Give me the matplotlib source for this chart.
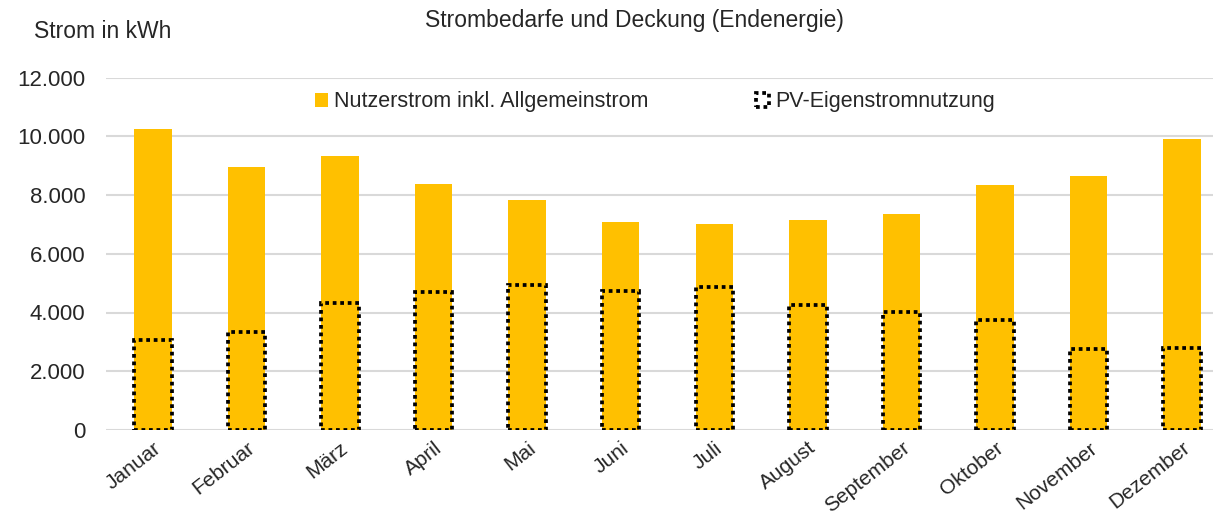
import matplotlib.pyplot as plt
from matplotlib.patches import Patch
from matplotlib.ticker import FuncFormatter

plt.rcParams['font.family'] = ['Liberation Sans', 'DejaVu Sans']

monate = ["Januar", "Februar", "März", "April", "Mai", "Juni", "Juli",
          "August", "September", "Oktober", "November", "Dezember"]
nutzerstrom = [10250, 8960, 9320, 8390, 7840, 7070, 7020, 7150, 7350, 8350, 8640, 9890]
pv_eigen = [3050, 3330, 4340, 4690, 4940, 4740, 4860, 4250, 4030, 3750, 2750, 2780]

gelb = '#FFC000'
textfarbe = '#262626'

fig = plt.figure(figsize=(12.13, 5.21), dpi=100)
# plot area runs a little past the right edge, like the cropped original
ax = fig.add_axes([106/1213, 1 - 430/521, (1229 - 106)/1213, (430 - 77.5)/521])

x = list(range(len(monate)))
ax.bar(x, nutzerstrom, width=0.4, color=gelb, zorder=2)
ax.bar(x, pv_eigen, width=0.4, facecolor='none', edgecolor='black',
       linewidth=2.7, linestyle=(0, (1, 1)), zorder=3)

ax.set_xlim(-0.5, len(monate) - 0.5)
ax.set_ylim(0, 12000)
ax.set_yticks(range(0, 12001, 2000))
ax.yaxis.set_major_formatter(FuncFormatter(lambda v, p: f"{int(v):,}".replace(",", ".")))
ax.grid(axis='y', color='#D9D9D9', linewidth=1.5, zorder=0)
for s in ax.spines.values():
    s.set_visible(False)
ax.tick_params(axis='y', length=0, labelsize=16, colors=textfarbe, pad=15)
ax.set_xticks(x)
ax.set_xticklabels(monate, rotation=38, ha='right', rotation_mode='anchor')
ax.tick_params(axis='x', length=0, labelsize=15, colors=textfarbe, pad=6)

handles = [Patch(facecolor=gelb, edgecolor='none'),
           Patch(facecolor='none', edgecolor='black', linewidth=2.7, linestyle=(0, (1, 1)))]
leg = ax.legend(handles, ["Nutzerstrom inkl. Allgemeinstrom", "PV-Eigenstromnutzung"],
                ncol=2, loc='center', bbox_to_anchor=(655/1213, 1 - 102/521),
                bbox_transform=fig.transFigure, frameon=False, fontsize=15.5,
                handlelength=0.6, handleheight=0.6, handletextpad=0.3, columnspacing=5.0)
for t in leg.get_texts():
    t.set_color(textfarbe)

fig.text(634/1213, 1 - 20/521, "Strombedarfe und Deckung (Endenergie)",
         ha='center', va='center', fontsize=16.5, color=textfarbe)
fig.text(34/1213, 1 - 31/521, "Strom in kWh", ha='left', va='center',
         fontsize=16.5, color=textfarbe)

fig.savefig('out.png', dpi=100)
